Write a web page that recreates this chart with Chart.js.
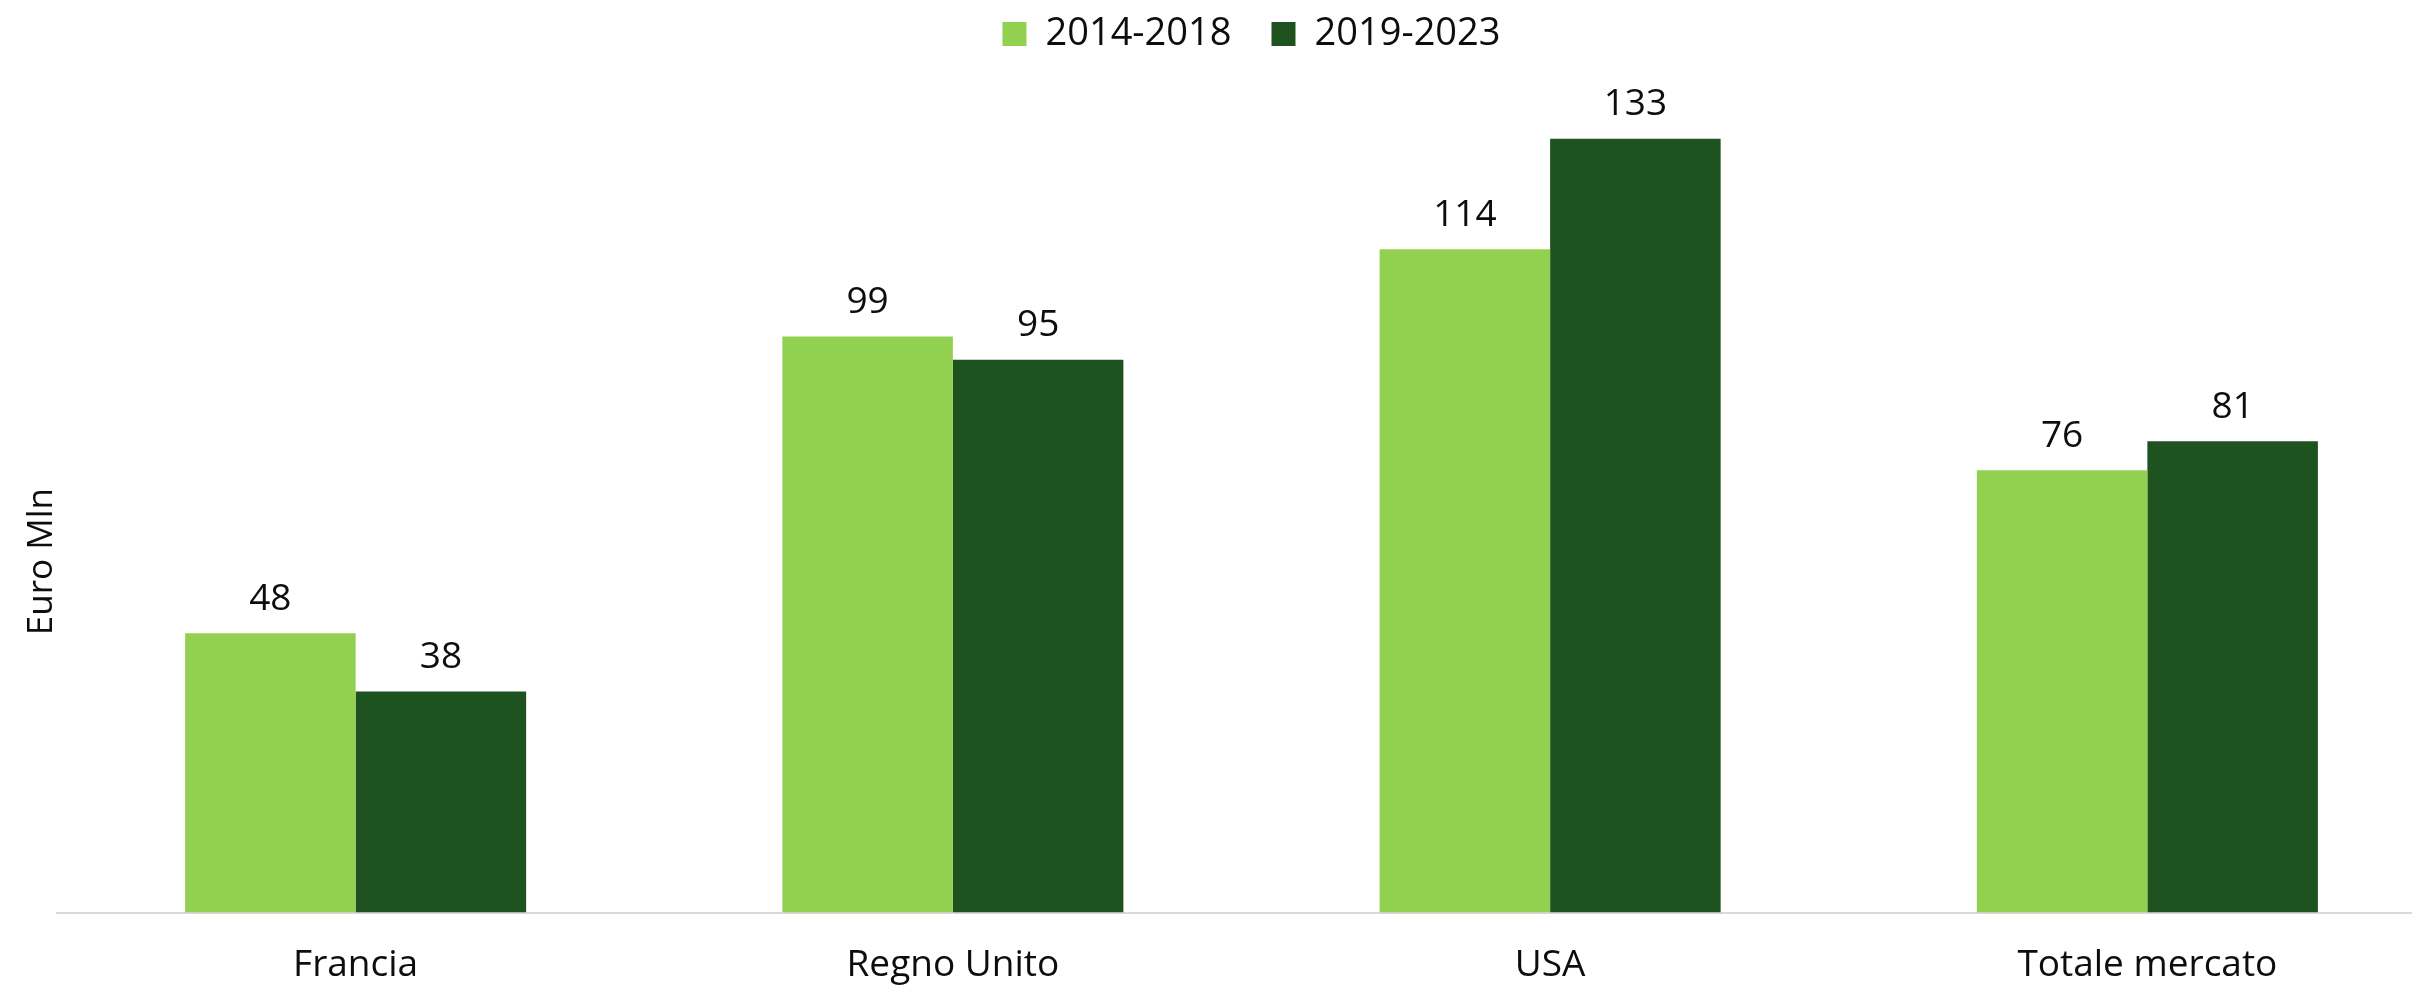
<!DOCTYPE html>
<html>
<head>
<meta charset="utf-8">
<script src="https://cdn.jsdelivr.net/npm/chart.js@4/dist/chart.umd.min.js"></script>
<style>
    html, body { margin: 0; padding: 0; background: #fff; overflow: hidden; }
    #wrap { position: relative; width: 2450px; height: 1023px; }
</style>
</head>
<body>
<div id="wrap"><canvas id="chart"></canvas></div>
<script>
const categories = ['Francia', 'Regno Unito', 'USA', 'Totale mercato'];
const seriesNames = ['2014-2018', '2019-2023'];
const values2014 = [48, 99, 114, 76];
const values2019 = [38, 95, 133, 81];
const yTitle = 'Euro Mln';

const FONT = "'Open Sans', sans-serif";
const TEXT = '#0d0d0d';

// value labels above each bar
const barLabels = {
    id: 'barLabels',
    afterDatasetsDraw(chart) {
        const ctx = chart.ctx;
        ctx.save();
        ctx.font = `37px ${FONT}`;
        ctx.fillStyle = TEXT;
        ctx.textAlign = 'center';
        ctx.textBaseline = 'middle';
        chart.data.datasets.forEach((ds, i) => {
            chart.getDatasetMeta(i).data.forEach((bar, j) => {
                ctx.fillText(ds.data[j], bar.x, bar.y - 34);
            });
        });
        ctx.restore();
    }
};

// rotated y axis title, placed like the original
const yAxisTitle = {
    id: 'yAxisTitle',
    afterDraw(chart) {
        const ctx = chart.ctx;
        const area = chart.chartArea;
        ctx.save();
        ctx.translate(area.left - 15, area.bottom - 351);
        ctx.rotate(-Math.PI / 2);
        ctx.font = `35px ${FONT}`;
        ctx.fillStyle = TEXT;
        ctx.textAlign = 'center';
        ctx.textBaseline = 'middle';
        ctx.fillText(yTitle, 0, 0);
        ctx.restore();
    }
};

new Chart(document.getElementById('chart'), {
    type: 'bar',
    data: {
        labels: categories,
        datasets: [
            { label: seriesNames[0], data: values2014, backgroundColor: '#92d050' },
            { label: seriesNames[1], data: values2019, backgroundColor: '#1e521e' }
        ]
    },
    options: {
        responsive: true,
        maintainAspectRatio: false,
        animation: false,
        categoryPercentage: 0.571,
        barPercentage: 1,
        layout: { padding: { left: 57, right: 4, top: -25, bottom: 4 } },
        plugins: {
            tooltip: { enabled: false },
            legend: {
                position: 'top',
                labels: {
                    boxWidth: 24,
                    boxHeight: 24,
                    padding: 40,
                    color: TEXT,
                    font: { family: FONT, size: 38 }
                }
            }
        },
        scales: {
            x: {
                grid: { display: false, drawTicks: false },
                border: { display: true, color: '#d9d9d9', width: 2 },
                ticks: { color: TEXT, padding: 31, font: { family: FONT, size: 37 } }
            },
            y: {
                display: false,
                min: 0,
                max: 146
            }
        }
    },
    plugins: [barLabels, yAxisTitle]
});
</script>
</body>
</html>
